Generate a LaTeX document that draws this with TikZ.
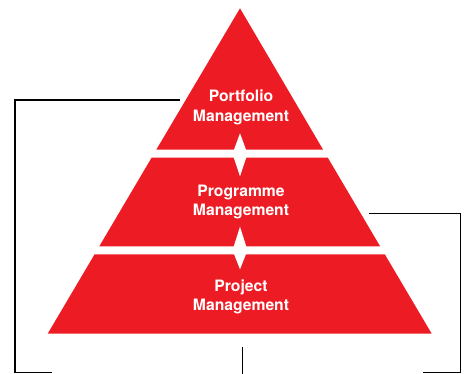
\documentclass[tikz,border=0pt]{standalone}
\usepackage{fontspec}
\setmainfont{TeX Gyre Heros}
\definecolor{pyrred}{HTML}{ED1C24}
\begin{document}
\begin{tikzpicture}[x=1pt,y=-1pt,
  level/.style={fill=pyrred,draw=none},
  gem/.style={fill=white,draw=none},
  label/.style={text=white,align=center,font=\fontsize{15.7}{19.3}\selectfont\bfseries,inner sep=0pt},
  link/.style={draw=black,line width=1.2pt}]
\useasboundingbox (0,0) rectangle (464,374);
% levels
\fill[level] (240,8.3) -- (323.1,149.7) -- (156.3,149.7) -- cycle;
\fill[level] (151.6,157.7) -- (327.8,157.7) -- (380.1,246.3) -- (99.3,246.3) -- cycle;
\fill[level] (94.6,254.3) -- (384.8,254.3) -- (431.7,333.7) -- (47.7,333.7) -- cycle;
% white diamonds
\fill[gem] (240,133.3) -- (247.5,153.7) -- (240,176.5) -- (232.5,153.7) -- cycle;
\fill[gem] (240,226.7) -- (247.5,250.3) -- (240,269.3) -- (232.5,250.3) -- cycle;
% labels
\node[label] (portfolio) at (241,107.3) {Portfolio\\Management};
\node[label] (programme) at (241,201.8) {Programme\\Management};
\node[label] (project) at (241,296.8) {Project\\Management};
% connectors
\coordinate (pl) at (180,100);
\coordinate (plc) at (15,100);
\coordinate (plb) at (15,372.7);
\coordinate (ple) at (51.7,372.7);
\coordinate (rl) at (369,213.7);
\coordinate (rlc) at (460.7,213.7);
\coordinate (rlb) at (460.7,372.7);
\coordinate (rle) at (422.7,372.7);
\coordinate (ml) at (242.3,346.7);
\coordinate (mle) at (242.3,374);
\draw[link] (pl) -- (plc) -- (plb) -- (ple);
\draw[link] (rl) -- (rlc) -- (rlb) -- (rle);
\draw[link] (ml) -- (mle);
\end{tikzpicture}
\end{document}
